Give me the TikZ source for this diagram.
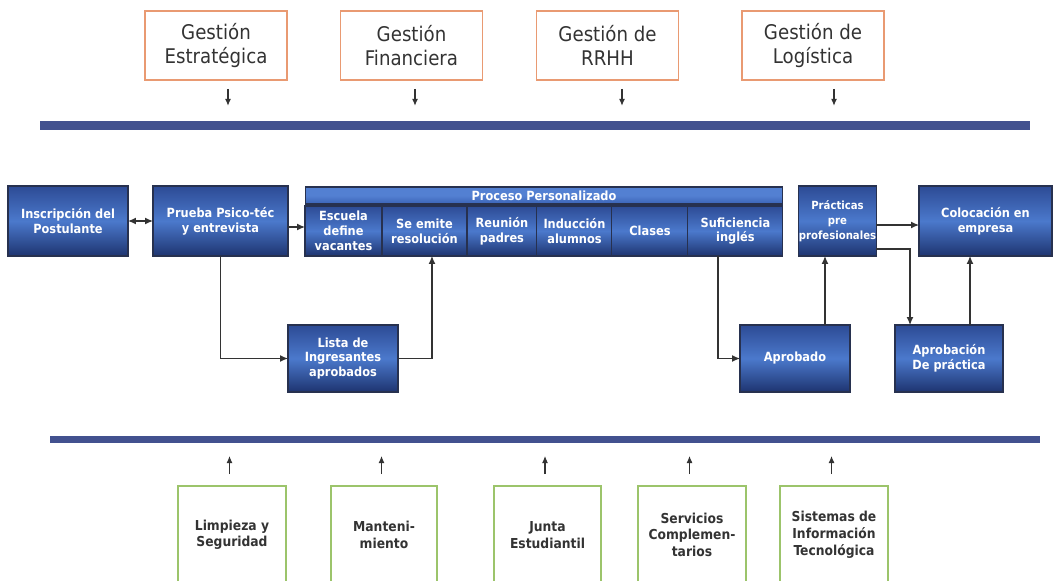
\documentclass[tikz,border=0pt]{standalone}
\usepackage{fontspec}
\setmainfont{DejaVu Sans Condensed}
\usetikzlibrary{positioning,arrows.meta}

\definecolor{boxedge}{HTML}{27314F}
\definecolor{boxtop}{HTML}{2D4B95}
\definecolor{boxmid}{HTML}{4B79CC}
\definecolor{boxbot}{HTML}{1E3470}
\definecolor{headtop}{HTML}{5380D2}
\definecolor{headbot}{HTML}{3A63B6}
\definecolor{orangeedge}{HTML}{E99A72}
\definecolor{greenedge}{HTML}{9CC46B}
\definecolor{barblue}{HTML}{42518F}
\definecolor{textgray}{HTML}{333333}
\definecolor{linegray}{HTML}{333333}

\begin{document}
\begin{tikzpicture}[x=0.02cm, y=-0.02cm,
    gestion/.style={draw=orangeedge, line width=0.9pt, minimum width=2.84cm, minimum height=1.38cm,
      align=center, font=\fontsize{11.5}{13.8}\selectfont, text=textgray, inner sep=1pt},
    apoyo/.style={draw=greenedge, line width=0.9pt, minimum width=2.16cm, minimum height=1.96cm,
      anchor=north, align=center, font=\fontsize{7.8}{9.6}\selectfont\bfseries, text=textgray, inner sep=1pt},
    paso/.style={draw=boxedge, line width=0.6pt, top color=boxtop, bottom color=boxbot, middle color=boxmid,
      align=center, font=\fontsize{7.2}{8.4}\selectfont\bfseries, text=white, inner sep=1pt, outer sep=0pt},
    sub/.style={paso, minimum height=1.0cm},
    flecha/.style={draw=linegray, line width=0.7pt, -{Latex[length=1.6mm,width=1.4mm]}},
    flechita/.style={draw=linegray, line width=0.6pt, -{Latex[length=1.4mm,width=1.2mm]}}]

  \useasboundingbox (0,0) rectangle (1061,581);
  \clip (0,0) rectangle (1061,581);

  % gestion
  \node[gestion] (estr) at (216,45.5) {Gestión\\Estratégica};
  \node[gestion] (fin) at (411.5,45.5) {Gestión\\Financiera};
  \node[gestion] (rrhh) at (607.5,45.5) {Gestión de\\RRHH};
  \node[gestion] (log) at (813,45.5) {Gestión de\\Logística};
  \foreach \b/\dx in {estr/0.24cm, fin/0.07cm, rrhh/0.29cm, log/0.42cm}
    \draw[flechita] ([xshift=\dx, yshift=-0.16cm]\b.south) -- ++(0,-0.34cm);

  \fill[barblue] (40,121) rectangle (1030,130);

  % proceso
  \node[paso, minimum width=2.4cm, minimum height=1.4cm] (insc) at (68,221) {Inscripción del\\Postulante};
  \node[paso, minimum width=2.7cm, minimum height=1.4cm] (prueba) at (220.5,221) {Prueba Psico-téc\\y entrevista};
  \node[paso, top color=headtop, bottom color=headbot, middle color=headtop,
        minimum width=9.56cm, minimum height=0.34cm] (proc) at (544,195.5) {Proceso Personalizado};
  \node[sub, minimum width=1.54cm] (esc) at (343.5,231) {Escuela\\define\\vacantes};
  \node[sub, minimum width=1.7cm, right=0pt of esc] (emi) {Se emite\\resolución};
  \node[sub, minimum width=1.4cm, right=0pt of emi] (reu) {Reunión\\padres};
  \node[sub, minimum width=1.5cm, right=0pt of reu] (ind) {Inducción\\alumnos};
  \node[sub, minimum width=1.52cm, right=0pt of ind] (cla) {Clases};
  \node[sub, minimum width=1.9cm, right=0pt of cla] (suf) {Suficiencia\\inglés};
  \node[paso, minimum width=1.5cm, minimum height=1.4cm, inner sep=0pt,
        font=\fontsize{6.4}{8.4}\selectfont\bfseries] (prac) at (837.5,221) {Prácticas\\pre\\profesionales};
  \node[paso, minimum width=2.66cm, minimum height=1.4cm] (coloc) at (985.5,221) {Colocación en\\empresa};

  \node[paso, minimum width=2.2cm, minimum height=1.34cm] (lista) at (343,358.5) {Lista de\\Ingresantes\\aprobados};
  \node[paso, minimum width=2.2cm, minimum height=1.34cm] (aprob) at (795,358.5) {Aprobado};
  \node[paso, minimum width=2.16cm, minimum height=1.34cm] (aprac) at (949,358.5) {Aprobación\\De práctica};

  \draw[flecha, {Latex[length=1.6mm,width=1.4mm]}-{Latex[length=1.6mm,width=1.4mm]}] (insc) -- (prueba);
  \draw[flecha] ([yshift=-0.12cm]prueba.east) -- ([yshift=-0.12cm]prueba.east -| esc.west);
  \draw[flecha] (prueba.south) |- (lista.west);
  \draw[flecha] (lista.east) -| ([xshift=0.15cm]emi.south);
  \draw[flecha] ([xshift=-0.35cm]suf.south) |- (aprob.west);
  \draw[flecha] ([xshift=0.6cm]aprob.north) -- ([xshift=0.6cm]aprob.north |- prac.south);
  \draw[flecha] ([yshift=-0.08cm]prac.east) -- ([yshift=-0.08cm]prac.east -| coloc.west);
  \draw[flecha] ([yshift=-0.56cm]prac.east) -| ([xshift=-0.78cm]aprac.north);
  \draw[flecha] ([xshift=0.42cm]aprac.north) -- ([xshift=0.42cm]aprac.north |- coloc.south);

  \fill[barblue] (50,436) rectangle (1040,443);

  % apoyo
  \node[apoyo] (limp) at (232,485) {Limpieza y\\Seguridad};
  \node[apoyo, minimum width=2.12cm] (mant) at (384,485) {Manteni-\\miento};
  \node[apoyo, minimum width=2.14cm] (junta) at (547.5,485) {Junta\\Estudiantil};
  \node[apoyo] (serv) at (692,485) {Servicios\\Complemen-\\tarios};
  \node[apoyo] (sist) at (834,485) {Sistemas de\\Información\\Tecnológica};
  \foreach \b in {limp, mant, junta, serv, sist}
    \draw[flechita] ([xshift=-0.05cm, yshift=0.22cm]\b.north) -- ++(0,0.36cm);
\end{tikzpicture}
\end{document}
